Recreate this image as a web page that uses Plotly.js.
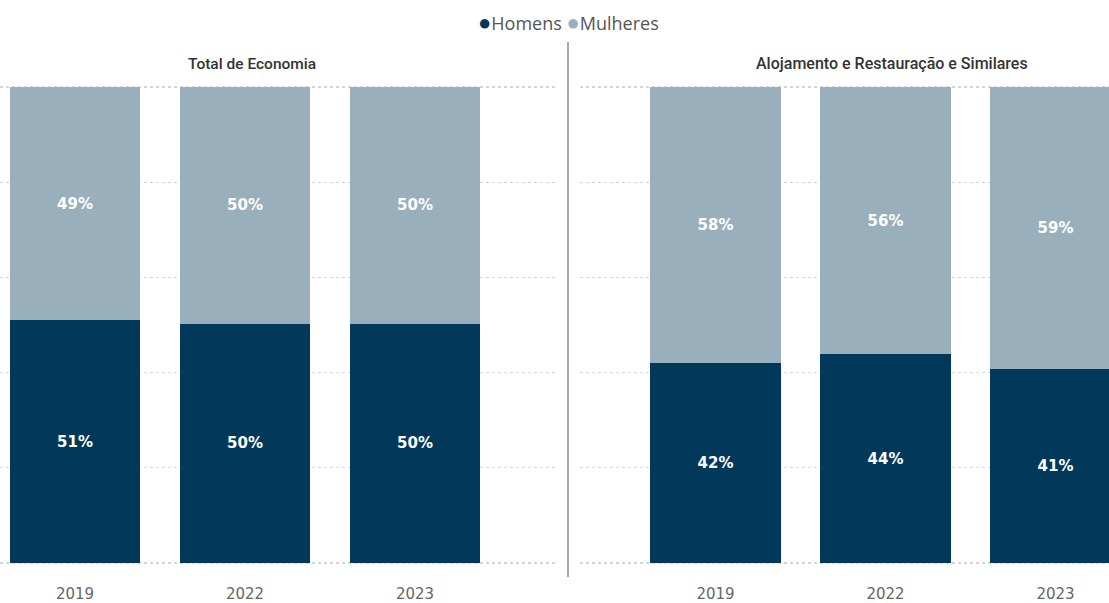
<!DOCTYPE html>
<html>
<head>
<meta charset="utf-8">
<script src="https://cdn.plot.ly/plotly-3.0.1.min.js"></script>
<style>html,body{margin:0;padding:0;background:#fff;}#chart{width:1109px;height:603px;}</style>
</head>
<body>
<div id="chart"></div>
<script>
const years = ["2019", "2022", "2023"];
const panelTitles = ["Total de Economia", "Alojamento e Restauração e Similares"];
const seriesNames = ["Homens", "Mulheres"];
const homensTotal = [51.0, 50.3, 50.3];
const mulheresTotal = [49.0, 49.7, 49.7];
const homensAloj = [42.0, 43.9, 40.8];
const mulheresAloj = [58.0, 56.1, 59.2];

const cHomens = "#023859";
const cMulheres = "#9AAFBC";
const W = 1109, H = 603;

function barTrace(name, y, color, xa, ya) {
  return {
    type: "bar", name: name, x: years, y: y, xaxis: xa, yaxis: ya,
    marker: {color: color, line: {width: 0}},
    width: 0.765,
    texttemplate: "%{y:.0f}%", textposition: "inside", insidetextanchor: "middle",
    textangle: 0,
    textfont: {family: "DejaVu Sans", size: 15, color: "#ffffff", weight: "bold"},
    showlegend: false, hoverinfo: "skip"
  };
}

const data = [
  barTrace(seriesNames[0], homensTotal, cHomens, "x", "y"),
  barTrace(seriesNames[1], mulheresTotal, cMulheres, "x", "y"),
  barTrace(seriesNames[0], homensAloj, cHomens, "x2", "y2"),
  barTrace(seriesNames[1], mulheresAloj, cMulheres, "x2", "y2")
];

// 100% spans 476 px (y = 87 .. 563); pad the range by 1 unit each side
const pxPerUnit = 476 / 100;
const yTop = 1 - (87 - pxPerUnit) / H, yBot = 1 - (563 + pxPerUnit) / H;
const tickFont = {family: "DejaVu Sans", size: 15, color: "#666666"};
function xAxis(d0, d1, r0, r1, anchor) {
  return {domain: [d0 / W, d1 / W], range: [r0, r1], type: "category", anchor: anchor,
    showgrid: false, zeroline: false, showline: false, ticks: "", tickfont: tickFont,
    ticklabelstandoff: 15, fixedrange: true};
}
function yAxis(anchor) {
  return {domain: [yBot, yTop], range: [-1, 101], anchor: anchor, showticklabels: false,
    tickvals: [0, 20, 40, 60, 80, 100],
    showgrid: true, gridcolor: "#d6d6d6", griddash: "dot", gridwidth: 1.2,
    zeroline: false, showline: false, ticks: "", fixedrange: true};
}

const legendText = "<span style='color:" + cHomens + ";font-size:22px'>●</span>" + seriesNames[0] +
  " <span style='color:" + cMulheres + ";font-size:22px'>●</span>" + seriesNames[1];

const layout = {
  width: W, height: H, margin: {l: 0, r: 0, t: 0, b: 0},
  paper_bgcolor: "#ffffff", plot_bgcolor: "rgba(0,0,0,0)",
  barmode: "stack",
  xaxis: xAxis(0, 555, -75 / 170, -75 / 170 + 555 / 170, "y"),
  yaxis: yAxis("x"),
  xaxis2: xAxis(580, 1109, -135.5 / 170, -135.5 / 170 + 529 / 170, "y2"),
  yaxis2: yAxis("x2"),
  showlegend: false,
  annotations: [
    {text: legendText, xref: "paper", yref: "paper", x: 568 / W, y: 1 - 21 / H, xanchor: "center", yanchor: "middle", showarrow: false,
      font: {family: "Open Sans", size: 18, color: "#555555"}},
    {text: panelTitles[0], xref: "paper", yref: "paper", x: 252 / W, y: 1 - 64 / H, xanchor: "center", yanchor: "middle", showarrow: false,
      font: {family: "Roboto", size: 15.5, color: "#333333", weight: 500}},
    {text: panelTitles[1], xref: "paper", yref: "paper", x: 892 / W, y: 1 - 64 / H, xanchor: "center", yanchor: "middle", showarrow: false,
      font: {family: "Roboto", size: 16, color: "#333333", weight: 500}}
  ],
  shapes: [
    {type: "line", xref: "paper", yref: "paper", x0: 568 / W, x1: 568 / W, y0: 1 - 42 / H, y1: 1 - 577 / H,
      line: {color: "#8a8a8a", width: 1.5}}
  ]
};

Plotly.newPlot("chart", data, layout, {displayModeBar: false, staticPlot: true});
</script>
</body>
</html>
